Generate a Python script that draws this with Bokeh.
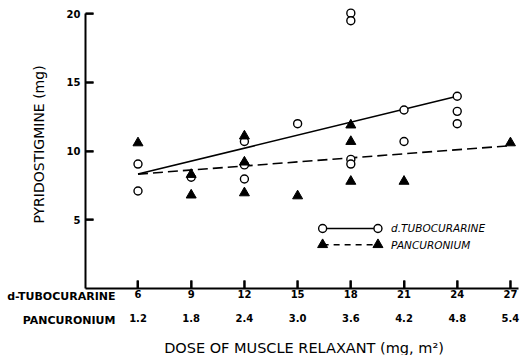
from bokeh.plotting import figure
from bokeh.models import LinearAxis, FixedTicker, Label, Range1d, Title, ColumnDataSource
from bokeh.embed import file_html
from bokeh.resources import INLINE

# d-Tubocurarine dose (mg/m2) and corresponding pancuronium dose
dose_ticks = [6, 9, 12, 15, 18, 21, 24, 27]
tubo_tick_labels = ["6", "9", "12", "15", "18", "21", "24", "27"]
panc_tick_labels = ["1.2", "1.8", "2.4", "3.0", "3.6", "4.2", "4.8", "5.4"]
y_ticks = [5, 10, 15, 20]

# d-Tubocurarine observations (open circles)
tubo_x = [6, 6, 9, 12, 12, 12, 15, 18, 18, 18, 18, 21, 21, 24, 24, 24]
tubo_y = [9.06, 7.1, 8.1, 10.7, 9.0, 7.97, 12.0, 20.05, 19.5, 9.4, 9.06, 13.0, 10.7, 14.0, 12.9, 12.0]

# Pancuronium observations (filled triangles), on the d-Tubocurarine-equivalent scale
panc_x = [6, 9, 9, 12, 12, 12, 15, 18, 18, 18, 21, 27]
panc_y = [10.6, 8.3, 6.8, 11.1, 9.2, 6.96, 6.74, 11.9, 10.7, 7.8, 7.8, 10.6]

# Regression lines
tubo_fit_x = [6, 24]
tubo_fit_y = [8.33, 14.0]
panc_fit_x = [6, 27]
panc_fit_y = [8.33, 10.4]

FONT = "DejaVu Sans"
X0, X1 = 3.04, 27.68
Y0, Y1 = 0, 20.97
PX_X = 17.74   # pixels per x unit
PX_Y = 13.83   # pixels per y unit
TICK = 8       # tick length in px

p = figure(width=522, height=355, output_backend="svg", toolbar_location=None,
           x_range=Range1d(X0, X1), y_range=Range1d(Y0, Y1),
           min_border_left=85, min_border_right=0, min_border_top=0, min_border_bottom=0)
p.outline_line_color = None
p.grid.visible = False
p.background_fill_color = "white"
p.border_fill_color = "white"

# y axis
ya = p.yaxis[0]
ya.ticker = FixedTicker(ticks=y_ticks)
ya.bounds = (0, 20)
ya.major_tick_in = TICK
ya.major_tick_out = 0
ya.major_tick_line_color = "black"
ya.major_tick_line_width = 2
ya.minor_tick_line_color = None
ya.axis_line_width = 2
ya.axis_line_color = "black"
ya.major_label_standoff = 5
ya.major_label_text_font = FONT
ya.major_label_text_font_size = "10px"
ya.major_label_text_font_style = "bold"
ya.major_label_text_color = "black"
ya.axis_label = "PYRIDOSTIGMINE (mg)"
ya.axis_label_text_font = FONT
ya.axis_label_text_font_size = "14px"
ya.axis_label_text_font_style = "normal"
ya.axis_label_text_color = "black"
ya.axis_label_standoff = 17

# x axis (d-Tubocurarine row)
xa = p.xaxis[0]
xa.ticker = FixedTicker(ticks=dose_ticks)
xa.major_label_overrides = {t: l for t, l in zip(dose_ticks, tubo_tick_labels)}
xa.bounds = (X0, 27.45)
xa.major_tick_in = TICK
xa.major_tick_out = 0
xa.major_tick_line_color = "black"
xa.major_tick_line_width = 2
xa.minor_tick_line_color = None
xa.axis_line_width = 2
xa.axis_line_color = "black"
xa.major_label_standoff = 1
xa.major_label_text_font = FONT
xa.major_label_text_font_size = "10px"
xa.major_label_text_font_style = "bold"
xa.major_label_text_color = "black"

# row name for the first row (its side panel fills the gap between the rows)
p.add_layout(Label(x=X0 + 30 / PX_X, y=-8 / PX_Y, text="d-TUBOCURARINE", text_align="right",
                   text_baseline="middle", text_font=FONT, text_font_size="11px",
                   text_font_style="bold", text_color="black"), "below")

# second x axis (Pancuronium row)
xb = LinearAxis(ticker=FixedTicker(ticks=dose_ticks))
xb.major_label_overrides = {t: l for t, l in zip(dose_ticks, panc_tick_labels)}
xb.axis_line_color = None
xb.major_tick_line_color = None
xb.minor_tick_line_color = None
xb.major_tick_in = 0
xb.major_tick_out = 0
xb.major_label_standoff = 0
xb.major_label_text_font = FONT
xb.major_label_text_font_size = "10px"
xb.major_label_text_font_style = "bold"
xb.major_label_text_color = "black"
p.add_layout(xb, "below")

p.add_layout(Label(x=X0 + 30 / PX_X, y=-32 / PX_Y, text="PANCURONIUM", text_align="right",
                   text_baseline="middle", text_font=FONT, text_font_size="11px",
                   text_font_style="bold", text_color="black"), "below")

p.add_layout(Title(text="DOSE OF MUSCLE RELAXANT (mg, m²)", align="center",
                   text_font=FONT, text_font_size="14.5px", text_font_style="normal",
                   text_color="black", standoff=0), "below")

# inward tick marks
xt = ColumnDataSource(dict(x0=dose_ticks, y0=[Y0] * len(dose_ticks),
                           y1=[Y0 + TICK / PX_Y] * len(dose_ticks)))
p.segment(x0="x0", y0="y0", x1="x0", y1="y1", source=xt, line_color="black", line_width=2)
yt = ColumnDataSource(dict(y0=y_ticks, x0=[X0] * len(y_ticks),
                           x1=[X0 + TICK / PX_X] * len(y_ticks)))
p.segment(x0="x0", y0="y0", x1="x1", y1="y0", source=yt, line_color="black", line_width=2)

# regression lines
p.line(tubo_fit_x, tubo_fit_y, line_color="black", line_width=1.6)
p.line(panc_fit_x, panc_fit_y, line_color="black", line_width=1.6, line_dash="10 5")

# data points
p.scatter(tubo_x, tubo_y, marker="circle", size=8, fill_color="white",
          line_color="black", line_width=1.4)
p.scatter(panc_x, panc_y, marker="triangle", size=10, fill_color="black",
          line_color="black")

# legend (drawn by hand)
leg_x = [16.41, 19.53]
p.line(leg_x, [4.37, 4.37], line_color="black", line_width=1.6)
p.scatter(leg_x, [4.37, 4.37], marker="circle", size=8, fill_color="white",
          line_color="black", line_width=1.4)
p.line(leg_x, [3.19, 3.19], line_color="black", line_width=1.6, line_dash="6 5")
p.scatter(leg_x, [3.19, 3.19], marker="triangle", size=10, fill_color="black",
          line_color="black")
p.add_layout(Label(x=20.27, y=4.37, text="d.TUBOCURARINE", text_baseline="middle",
                   text_font=FONT, text_font_size="10.5px", text_font_style="italic",
                   text_color="black"))
p.add_layout(Label(x=20.27, y=3.19, text="PANCURONIUM", text_baseline="middle",
                   text_font=FONT, text_font_size="10.5px", text_font_style="italic",
                   text_color="black"))

open("out.html", "w").write(file_html(p, INLINE))
